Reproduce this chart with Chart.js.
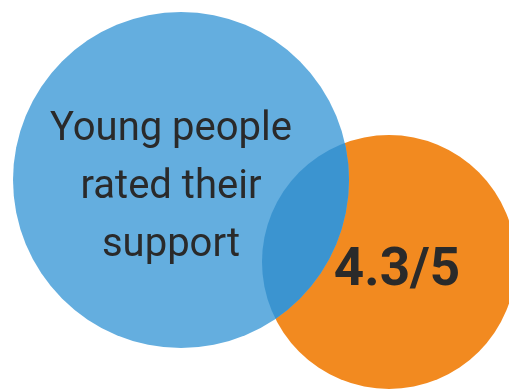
<!DOCTYPE html>
<html>
<head>
<meta charset="utf-8">
<script src="https://cdn.jsdelivr.net/npm/chart.js@4/dist/chart.umd.min.js"></script>
<style>
  html, body { margin: 0; padding: 0; background: #fff; }
  #wrap { width: 509px; height: 391px; position: relative; }
</style>
</head>
<body>
<div id="wrap"><canvas id="venn"></canvas></div>
<script>
// circles (x, y, r in canvas units)
const circleNames = ["Young people", "Rating"];
const circleX = [181, 389];
const circleY = [180, 262];
const circleR = [168, 127];
const circleColors = ["#64aedf", "#f28a20"];
const overlapColor = "#3b94d0";

// labels
const labelLines = ["Young people", "rated their", "support"];
const labelX = 171;
const labelY = [140, 198, 256];
const scoreText = "4.3/5";
const scoreX = 397;
const scoreY = 285;

// draws the lens where both circles meet, plus the texts
const vennPlugin = {
  id: "venn",
  afterDatasetsDraw(chart) {
    const ctx = chart.ctx;
    const a = chart.getDatasetMeta(1).data[0];
    const b = chart.getDatasetMeta(0).data[0];
    const ra = a.options.radius, rb = b.options.radius;

    ctx.save();
    ctx.beginPath();
    ctx.arc(b.x, b.y, rb, 0, Math.PI * 2);
    ctx.clip();
    ctx.beginPath();
    ctx.arc(a.x, a.y, ra, 0, Math.PI * 2);
    ctx.fillStyle = overlapColor;
    ctx.fill();
    ctx.restore();

    const xs = chart.scales.x, ys = chart.scales.y;
    ctx.save();
    ctx.fillStyle = "#2a2a2a";
    ctx.textAlign = "center";
    ctx.textBaseline = "alphabetic";
    ctx.font = "400 40px Roboto";
    labelLines.forEach((line, i) => {
      ctx.fillText(line, xs.getPixelForValue(labelX), ys.getPixelForValue(labelY[i]));
    });
    ctx.font = "700 53px Roboto";
    ctx.fillText(scoreText, xs.getPixelForValue(scoreX), ys.getPixelForValue(scoreY));
    ctx.restore();
  }
};

const ctx = document.getElementById("venn").getContext("2d");
new Chart(ctx, {
  type: "bubble",
  data: {
    datasets: [
      {
        label: circleNames[1],
        data: [{ x: circleX[1], y: circleY[1], r: circleR[1] }],
        backgroundColor: circleColors[1],
        borderWidth: 0,
        clip: false,
        order: 2
      },
      {
        label: circleNames[0],
        data: [{ x: circleX[0], y: circleY[0], r: circleR[0] }],
        backgroundColor: circleColors[0],
        borderWidth: 0,
        clip: false,
        order: 1
      }
    ]
  },
  options: {
    responsive: true,
    maintainAspectRatio: false,
    animation: false,
    events: [],
    layout: { padding: 0, autoPadding: false },
    plugins: { legend: { display: false }, tooltip: { enabled: false } },
    scales: {
      x: { type: "linear", min: 0, max: 509, display: false },
      y: { type: "linear", min: 0, max: 391, reverse: true, display: false }
    }
  },
  plugins: [vennPlugin]
});
</script>
</body>
</html>
